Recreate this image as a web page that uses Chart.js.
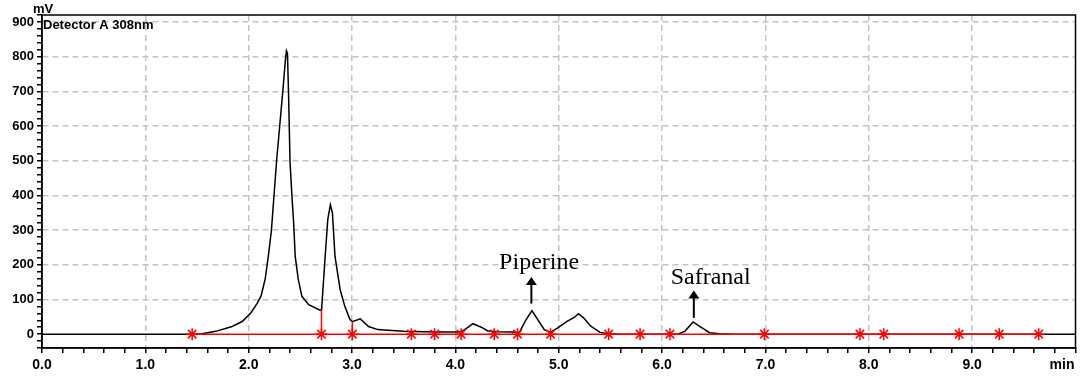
<!DOCTYPE html>
<html>
<head>
<meta charset="utf-8">
<script src="https://cdn.jsdelivr.net/npm/chart.js@4.4.0/dist/chart.umd.min.js"></script>
<style>
  body { margin: 0; background: #fff; }
  #wrap { width: 1083px; height: 376px; position: relative; }
</style>
</head>
<body>
<div id="wrap"><canvas id="grafico"></canvas></div>
<script>
const tempos = [0, 1.45, 1.55, 1.68, 1.84, 1.94, 2.02, 2.08, 2.12, 2.16, 2.19, 2.22, 2.245, 2.27, 2.30, 2.33, 2.355, 2.365, 2.375, 2.385, 2.40, 2.42, 2.435, 2.45, 2.48, 2.515, 2.58, 2.69, 2.705, 2.74, 2.765, 2.79, 2.81, 2.835, 2.885, 2.93, 2.98, 3.003, 3.08, 3.16, 3.25, 3.35, 3.5, 3.7, 3.9, 4.05, 4.10, 4.17, 4.25, 4.31, 4.40, 4.55, 4.62, 4.68, 4.74, 4.79, 4.86, 4.92, 4.99, 5.08, 5.15, 5.19, 5.24, 5.31, 5.40, 5.48, 5.6, 6.15, 6.22, 6.30, 6.36, 6.46, 6.55, 6.7, 10];
const sinal = [0, 0, 1, 8, 22, 37, 61, 88, 110, 160, 225, 300, 400, 500, 600, 700, 790, 817, 810, 700, 495, 390, 320, 224, 157, 109, 85, 69, 70, 224, 330, 373, 350, 224, 128, 80, 42, 36, 44, 22, 13, 11, 8, 7, 6, 6, 15, 30, 20, 10, 7, 6, 5, 40, 68, 45, 13, 5, 18, 37, 48, 59, 47, 23, 5, 1, 0, 0, 8, 35, 23, 4, 1, 0, 0];

// marcas de integração (asteriscos vermelhos) e linha de base
const marcasTempo = [1.453, 2.704, 3.003, 3.574, 3.799, 4.055, 4.376, 4.601, 4.921, 5.483, 5.787, 6.076, 6.99, 7.914, 8.145, 8.874, 9.262, 9.644];
const baseInicio = 1.45;
const baseFim = 9.644;
const quedasTempo = [2.704, 3.003];
const quedasAltura = [70, 36];

// picos identificados
const picoNomes = ['Piperine', 'Safranal'];
const picoTextoPos = [[4.81, 188], [6.47, 145]];
const picoSeta = [[4.735, 88, 165], [6.307, 47, 126]];

const cinza = '#c4c4c4';
const fonteEixo = '"Liberation Sans", Arial, sans-serif';
const inteiro = v => Math.abs(v - Math.round(v)) < 1e-6;

const extras = {
  id: 'extras',
  afterDatasetsDraw(chart) {
    const { ctx, chartArea: a, scales: { x, y } } = chart;
    ctx.save();
    ctx.strokeStyle = '#000';
    ctx.lineWidth = 1.5;
    ctx.strokeRect(a.left, a.top, a.right - a.left, a.bottom - a.top);

    ctx.fillStyle = '#000';
    ctx.textBaseline = 'middle';
    ctx.font = 'bold 13px ' + fonteEixo;
    ctx.fillText('Detector A 308nm', a.left + 1, a.top + 10);
    ctx.fillText('mV', a.left - 9, a.top - 6);
    ctx.textAlign = 'right';
    ctx.font = 'bold 14px ' + fonteEixo;
    ctx.fillText('min', a.right - 1, 365);

    ctx.textAlign = 'center';
    ctx.textBaseline = 'alphabetic';
    ctx.font = '24px "Liberation Serif", "Times New Roman", serif';
    picoNomes.forEach((nome, i) => {
      ctx.fillText(nome, x.getPixelForValue(picoTextoPos[i][0]), y.getPixelForValue(picoTextoPos[i][1]));
      const sx = x.getPixelForValue(picoSeta[i][0]);
      const y0 = y.getPixelForValue(picoSeta[i][1]);
      const y1 = y.getPixelForValue(picoSeta[i][2]);
      ctx.beginPath();
      ctx.lineWidth = 2;
      ctx.moveTo(sx, y0);
      ctx.lineTo(sx, y1 + 6);
      ctx.stroke();
      ctx.beginPath();
      ctx.moveTo(sx, y1);
      ctx.lineTo(sx - 5.5, y1 + 8);
      ctx.lineTo(sx + 5.5, y1 + 8);
      ctx.closePath();
      ctx.fill();
    });
    ctx.restore();
  }
};

const datasets = [
  {
    label: 'marcas',
    data: marcasTempo.map(t => ({ x: t, y: 0 })),
    pointStyle: 'star',
    pointRadius: 6,
    borderColor: '#ff0000',
    borderWidth: 1.5,
    showLine: false,
    order: 0
  },
  {
    label: 'linha base',
    data: [{ x: baseInicio, y: 0 }, { x: baseFim, y: 0 }],
    showLine: true,
    borderColor: '#ff0000',
    borderWidth: 1.5,
    pointRadius: 0,
    order: 1
  }
];
quedasTempo.forEach((t, i) => {
  datasets.push({
    label: 'queda ' + i,
    data: [{ x: t, y: 0 }, { x: t, y: quedasAltura[i] }],
    showLine: true,
    borderColor: '#ff0000',
    borderWidth: 1.5,
    pointRadius: 0,
    order: 2
  });
});
datasets.push({
  label: 'sinal',
  data: tempos.map((t, i) => ({ x: t, y: sinal[i] })),
  showLine: true,
  borderColor: '#000',
  borderWidth: 1.5,
  pointRadius: 0,
  tension: 0,
  order: 3
});

new Chart(document.getElementById('grafico'), {
  type: 'scatter',
  data: { datasets: datasets },
  options: {
    responsive: true,
    maintainAspectRatio: false,
    animation: false,
    layout: { padding: { top: 15, right: 2, left: 0, bottom: 0 } },
    plugins: {
      legend: { display: false },
      tooltip: { enabled: false }
    },
    scales: {
      x: {
        type: 'linear',
        min: 0,
        max: 10,
        afterFit: s => { s.height = 28; s.paddingLeft = 0; s.paddingRight = 0; },
        border: { color: '#000', width: 1.5, dash: [6, 4] },
        grid: {
          color: c => (c.tick && inteiro(c.tick.value) && c.tick.value > 0 && c.tick.value < 10) ? cinza : 'rgba(0,0,0,0)',
          tickColor: '#000',
          tickLength: 5,
          lineWidth: 1.5
        },
        ticks: {
          stepSize: 0.2,
          autoSkip: false,
          maxRotation: 0,
          minRotation: 0,
          padding: 4,
          color: '#000',
          font: { family: fonteEixo, size: 14, weight: 'bold' },
          callback: v => (inteiro(v) && v < 9.99) ? v.toFixed(1) : ''
        }
      },
      y: {
        min: -40,
        max: 920,
        afterFit: s => { s.width = 42; },
        border: { color: '#000', width: 1.5, dash: [6, 4] },
        grid: {
          color: c => (c.tick && c.tick.value > 0 && c.tick.value % 100 === 0) ? cinza : 'rgba(0,0,0,0)',
          tickColor: '#000',
          tickLength: 5,
          lineWidth: 1.5
        },
        ticks: {
          stepSize: 20,
          autoSkip: false,
          padding: 3,
          color: '#000',
          font: { family: fonteEixo, size: 13, weight: 'bold' },
          callback: v => (v >= 0 && v % 100 === 0) ? String(v) : ''
        }
      }
    }
  },
  plugins: [extras]
});
</script>
</body>
</html>
